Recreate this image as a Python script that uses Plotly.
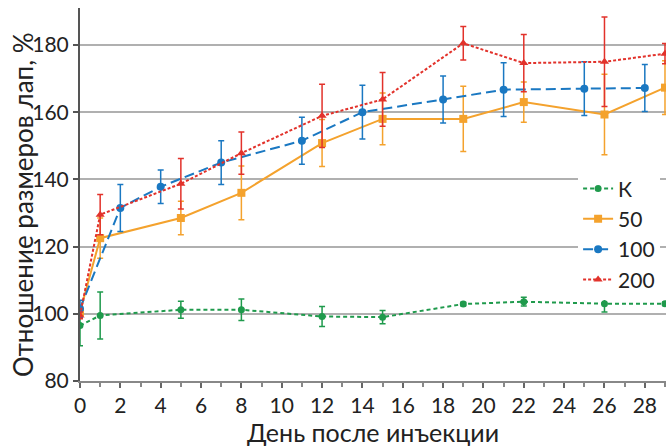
import plotly.graph_objects as go

# Data
days_k = [0, 1, 5, 8, 12, 15, 19, 22, 26, 29]
k_vals = [96.5, 99.5, 101.2, 101.2, 99.2, 99.0, 102.9, 103.6, 103.0, 103.0]
k_err = [6.0, 7.0, 2.5, 3.2, 3.0, 2.0, 0.5, 1.3, 2.5, 0.5]

days_50 = [0, 1, 5, 8, 12, 15, 19, 22, 26, 29]
v50 = [100.5, 122.5, 128.5, 136.0, 150.8, 158.0, 158.0, 163.0, 159.3, 167.3]
e50 = [1.5, 6.0, 5.0, 8.0, 7.0, 7.7, 9.7, 6.0, 12.0, 8.0]

days_100 = [0, 2, 4, 7, 11, 14, 18, 21, 25, 28]
v100 = [101.5, 131.5, 137.8, 145.0, 151.5, 160.0, 163.8, 166.7, 167.0, 167.2]
e100 = [2.5, 7.0, 5.0, 6.5, 7.0, 8.0, 7.0, 8.0, 8.0, 7.0]

days_200 = [0, 1, 5, 8, 12, 15, 19, 22, 26, 29]
v200 = [99.5, 129.5, 138.7, 147.8, 158.9, 163.8, 180.5, 174.6, 175.0, 177.4]
e200 = [1.0, 6.0, 7.5, 6.3, 9.4, 8.0, 5.0, 8.5, 13.3, 3.0]

series_names = ["К", "50", "100", "200"]
colors = ["#1f9a4c", "#f4a22d", "#1a78c2", "#e2322b"]
dashes = ["4px,3px", "solid", "10px,5px", "3px,2px"]
symbols = ["circle", "square", "circle", "triangle-up"]
sizes = [7, 8, 8, 8]

xticks = list(range(0, 30, 2))
yticks = [80, 100, 120, 140, 160, 180]

x_title = "День после инъекции"
y_title = "Отношение размеров лап, %"

FONT = "Lato, 'Open Sans', sans-serif"

fig = go.Figure()
data = [(days_k, k_vals, k_err), (days_50, v50, e50), (days_100, v100, e100), (days_200, v200, e200)]
for (x, y, e), name, c, d, s, sz in zip(data, series_names, colors, dashes, symbols, sizes):
    fig.add_trace(go.Scatter(
        x=x, y=y, name=name, mode="lines+markers",
        line=dict(color=c, width=2, dash=d),
        marker=dict(color=c, symbol=s, size=sz),
        error_y=dict(type="data", array=e, visible=True, color=c, thickness=1.5, width=3),
    ))

fig.update_layout(
    width=666, height=447,
    margin=dict(l=80, r=0, t=8, b=66, autoexpand=False),
    paper_bgcolor="white", plot_bgcolor="white",
    font=dict(family=FONT, size=21, color="#222"),
    legend=dict(x=0.85, y=0.57, xanchor="left", yanchor="top",
                bgcolor="white", font=dict(size=21), tracegroupgap=0,
                itemwidth=30),
    showlegend=True,
    annotations=[dict(
        text=y_title, xref="paper", yref="paper", x=-0.097, y=0.472,
        xanchor="center", yanchor="middle", textangle=-90, showarrow=False,
        font=dict(size=26, family=FONT, color="#222"),
    )],
)
fig.update_xaxes(
    range=[0, 29.05], tickvals=xticks, ticktext=[str(v) for v in xticks],
    ticks="outside", ticklen=5, tickcolor="#666", tickwidth=1.5,
    minor=dict(dtick=1, tick0=0, ticks="outside", ticklen=4, tickcolor="#888"),
    showline=True, linecolor="#888", linewidth=2, showgrid=False, zeroline=False,
    title=dict(text=x_title, font=dict(size=25), standoff=18),
    tickfont=dict(size=21), automargin=False,
)
fig.update_yaxes(
    range=[80, 191], tickvals=yticks,
    ticks="outside", ticklen=5, tickcolor="#555", tickwidth=1.5,
    showline=True, linecolor="#555", linewidth=2,
    showgrid=True, gridcolor="#b0b0b0", gridwidth=1.5, zeroline=False,
    tickfont=dict(size=21), automargin=False,
)

fig.write_html("out.html", config={"displayModeBar": False},
               post_script="document.body.style.margin='0';")
